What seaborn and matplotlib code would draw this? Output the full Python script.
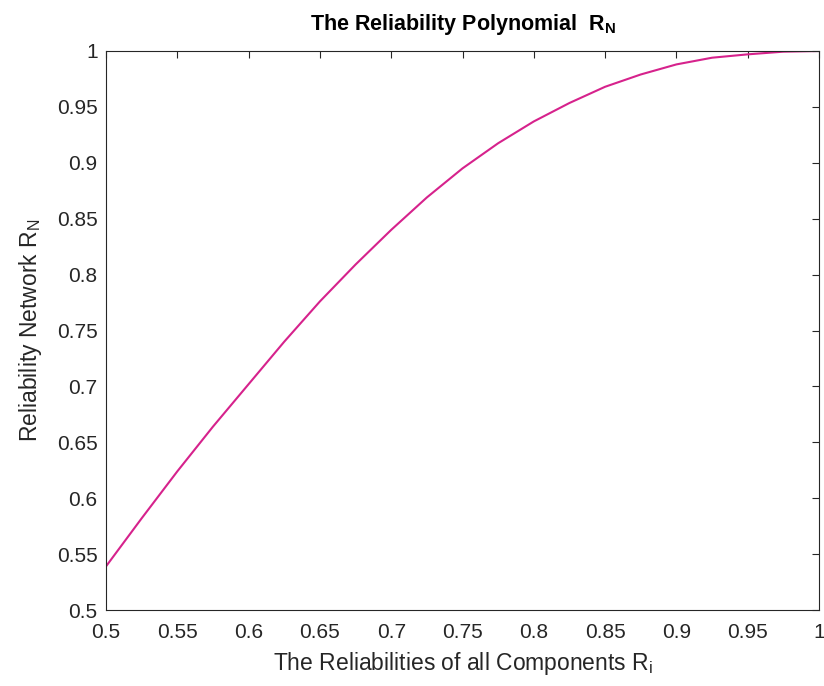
import matplotlib
matplotlib.use('Agg')
import matplotlib.pyplot as plt
import seaborn as sns

# Reliability of the network (every 0.025 along x)
component_rel = [0.5, 0.525, 0.55, 0.575, 0.6, 0.625, 0.65, 0.675, 0.7, 0.725, 0.75,
                 0.775, 0.8, 0.825, 0.85, 0.875, 0.9, 0.925, 0.95, 0.975, 1.0]
network_rel = [0.539, 0.582, 0.624, 0.664, 0.702, 0.740, 0.776, 0.809, 0.840, 0.869, 0.895,
               0.9175, 0.937, 0.9535, 0.968, 0.979, 0.988, 0.994, 0.997, 0.9994, 1.0]

x_ticks = [0.5, 0.55, 0.6, 0.65, 0.7, 0.75, 0.8, 0.85, 0.9, 0.95, 1.0]
x_labels = ['0.5', '0.55', '0.6', '0.65', '0.7', '0.75', '0.8', '0.85', '0.9', '0.95', '1']
y_ticks = [0.5, 0.55, 0.6, 0.65, 0.7, 0.75, 0.8, 0.85, 0.9, 0.95, 1.0]
y_labels = ['0.5', '0.55', '0.6', '0.65', '0.7', '0.75', '0.8', '0.85', '0.9', '0.95', '1']

sns.set_style('white')
plt.rcParams['font.family'] = ['Liberation Sans', 'DejaVu Sans']
plt.rcParams['mathtext.fontset'] = 'custom'
plt.rcParams['mathtext.rm'] = 'Liberation Sans'
plt.rcParams['mathtext.it'] = 'Liberation Sans:italic'
plt.rcParams['mathtext.bf'] = 'Liberation Sans:bold'

dark = '#262626'
fig = plt.figure(figsize=(8.24, 6.86), dpi=100)
ax = fig.add_axes([106 / 824, 1 - 610 / 686, (819 - 106) / 824, (610 - 51) / 686])

sns.lineplot(x=component_rel, y=network_rel, color='#D6228C', lw=1.5, ax=ax)

ax.set_xlim(0.5, 1)
ax.set_ylim(0.5, 1)
ax.set_xticks(x_ticks)
ax.set_xticklabels(x_labels)
ax.set_yticks(y_ticks)
ax.set_yticklabels(y_labels)
ax.tick_params(direction='in', length=5, width=0.8, colors=dark,
               labelsize=15, top=True, right=True)
ax.tick_params(axis='x', pad=9)
ax.tick_params(axis='y', pad=6)
for s in ax.spines.values():
    s.set_color(dark)
    s.set_linewidth(0.8)

ax.set_xlabel(r'The Reliabilities of all Components $\mathregular{R_i}$',
              fontsize=16.5, color=dark, labelpad=6)
ax.set_ylabel(r'Reliability Network $\mathregular{R_N}$',
              fontsize=16.5, color=dark, labelpad=9)
ax.set_title(r'The Reliability Polynomial  $\mathbf{R_N}$',
             fontsize=15.5, fontweight='bold', color='black', pad=15)

fig.savefig('out.png', dpi=100)
